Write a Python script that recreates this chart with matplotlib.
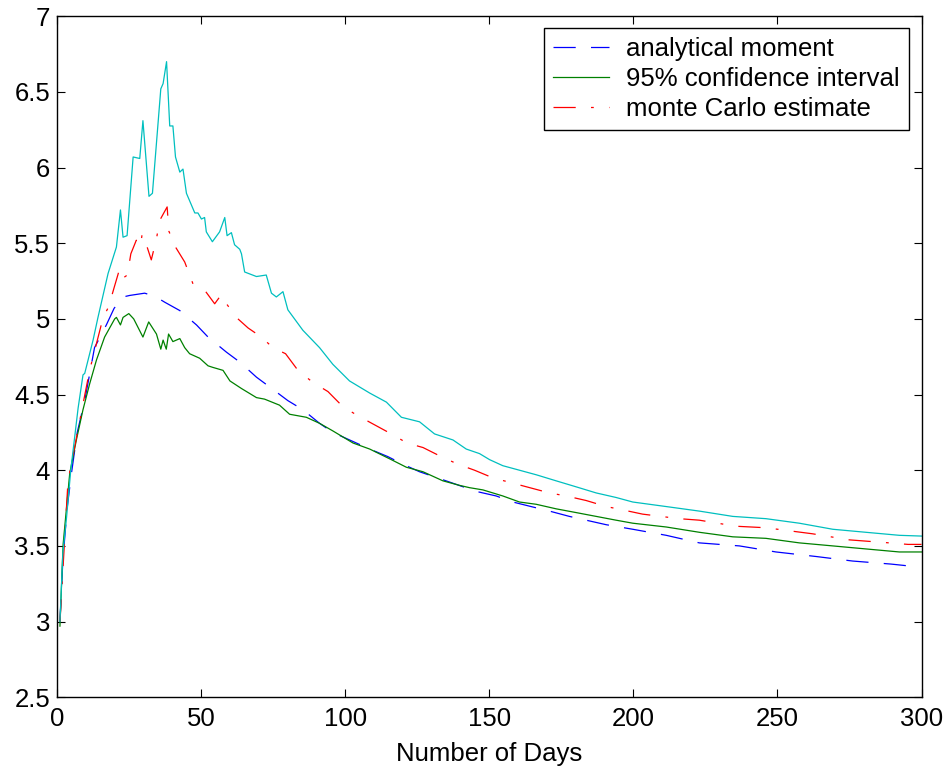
import matplotlib
matplotlib.use("Agg")
import matplotlib.pyplot as plt

plt.rcParams["font.family"] = ["Liberation Sans", "DejaVu Sans"]
plt.rcParams["lines.scale_dashes"] = False

# values (day, value)
upper_days = [1, 2, 3.3, 4.75, 7.3, 9, 9.6, 12.5, 14.2, 17.7, 20.6, 22, 22.9, 24.3,
              26.4, 28.7, 29.8, 31.9, 33.1, 36, 36.8, 38, 39.1, 40.2, 41.1, 42.6,
              43.7, 44.9, 47.8, 48.9, 50.1, 51.2, 51.8, 53.9, 56.4, 58.2, 59, 60.5,
              61.6, 63.4, 64, 65.1, 69.2, 72.6, 74.4, 76.1, 78.4, 80.1, 85.3, 91.1,
              95.7, 101.5, 108.5, 114.3, 119.5, 125.8, 131, 137.4, 142, 146.6, 150.1,
              154.7, 160.5, 166.3, 173.2, 180.2, 187.1, 194, 199.8, 211.4, 222.9,
              234.5, 246, 257.6, 269.2, 280.7, 292.3, 300]
upper_vals = [3.0, 3.45, 3.69, 4.0, 4.41, 4.63, 4.64, 4.86, 5.01, 5.30, 5.475, 5.72,
              5.54, 5.55, 6.07, 6.06, 6.31, 5.81, 5.83, 6.52, 6.555, 6.70, 6.275,
              6.275, 6.07, 5.97, 5.99, 5.83, 5.70, 5.70, 5.66, 5.67, 5.575, 5.51,
              5.575, 5.67, 5.55, 5.57, 5.49, 5.46, 5.43, 5.31, 5.28, 5.29, 5.17,
              5.145, 5.18, 5.06, 4.925, 4.81, 4.70, 4.59, 4.51, 4.45, 4.35, 4.32,
              4.24, 4.20, 4.14, 4.11, 4.07, 4.03, 4.0, 3.97, 3.93, 3.89, 3.85, 3.82,
              3.79, 3.76, 3.73, 3.695, 3.68, 3.65, 3.61, 3.59, 3.57, 3.565]

lower_days = [1, 2.1, 4.4, 6.7, 9, 11.3, 13.7, 16.5, 20, 20.6, 22, 22.9, 24.9, 26.6,
              29.8, 31.8, 34.5, 36, 36.8, 37.9, 38.7, 40.2, 42.6, 44.3, 46, 49.5,
              52.4, 54, 57.6, 60, 64, 69.2, 72, 77.2, 80.7, 86.5, 91.1, 95.7, 102.7,
              108.5, 116, 121.2, 127, 133.9, 139.7, 143.1, 147.8, 154.7, 160.5,
              166.3, 173.2, 180.2, 187.1, 194, 199.8, 211.4, 222.9, 234.5, 246,
              257.6, 269.2, 280.7, 292.3, 300]
lower_vals = [2.97, 3.51, 3.98, 4.20, 4.40, 4.57, 4.73, 4.88, 5.0, 5.01, 4.96, 5.01,
              5.035, 5.0, 4.88, 4.98, 4.90, 4.80, 4.86, 4.80, 4.90, 4.85, 4.87,
              4.81, 4.77, 4.74, 4.69, 4.68, 4.66, 4.59, 4.54, 4.48, 4.47, 4.43,
              4.37, 4.35, 4.31, 4.26, 4.18, 4.14, 4.07, 4.02, 3.99, 3.93, 3.90,
              3.885, 3.87, 3.83, 3.79, 3.775, 3.745, 3.72, 3.695, 3.67, 3.65,
              3.625, 3.59, 3.56, 3.55, 3.52, 3.50, 3.48, 3.46, 3.46]

moment_days = [1, 2, 3.5, 5, 7, 9.6, 13, 17.1, 19.8, 22.9, 25.2, 30.4, 33.9, 37.4,
               42.6, 48.4, 52.4, 58.8, 63.4, 69.2, 73.8, 80.1, 85.3, 91.1, 95.7,
               102.7, 108.5, 114.8, 120, 125.8, 135, 145.5, 152.4, 158.2, 164.5,
               170.9, 177.8, 183.6, 190.6, 199.8, 211.4, 222.9, 236.8, 249.5, 263.4,
               276.1, 289.4, 296.9]
moment_vals = [3.0, 3.4, 3.75, 3.98, 4.25, 4.46, 4.81, 4.96, 5.07, 5.145, 5.155,
               5.17, 5.15, 5.11, 5.055, 4.96, 4.88, 4.78, 4.715, 4.615, 4.55, 4.46,
               4.40, 4.31, 4.25, 4.19, 4.14, 4.09, 4.04, 3.99, 3.93, 3.86, 3.83,
               3.79, 3.76, 3.73, 3.695, 3.67, 3.64, 3.61, 3.57, 3.52, 3.50, 3.46,
               3.43, 3.40, 3.38, 3.365]

mc_days = [1, 3.8, 7.9, 11.3, 16, 17.9, 19.7, 21.7, 22.9, 24.4, 25.6, 27.5, 29,
           29.5, 31, 32.7, 34.5, 35.6, 38.2, 38.8, 41.1, 44.3, 47.2, 51.6, 54.7, 57,
           58.8, 62.2, 66.3, 70.9, 74.9, 79.3, 83.6, 88.8, 94, 99.2, 104.4, 110.2,
           116, 121.4, 127, 133.3, 139.1, 144.9, 151.2, 164, 170.9, 176.7, 183.6,
           190.6, 195.8, 203.2, 215.9, 222.9, 235.6, 246, 262.2, 274.9, 288.8,
           295.3, 300]
mc_vals = [3.0, 3.93, 4.33, 4.66, 5.01, 5.08, 5.20, 5.33, 5.27, 5.29, 5.43, 5.52,
           5.48, 5.56, 5.49, 5.39, 5.53, 5.65, 5.74, 5.58, 5.475, 5.376, 5.23, 5.18,
           5.10, 5.16, 5.10, 5.01, 4.94, 4.88, 4.81, 4.77, 4.66, 4.58, 4.52, 4.42,
           4.36, 4.30, 4.24, 4.18, 4.15, 4.09, 4.04, 4.0, 3.95, 3.885, 3.85, 3.83,
           3.80, 3.76, 3.74, 3.71, 3.68, 3.67, 3.63, 3.62, 3.58, 3.54, 3.52, 3.51,
           3.51]

fig = plt.figure(figsize=(9.51, 7.73), dpi=100)
ax = fig.add_axes([0.060, 0.098, 0.909, 0.881])

lw = 0.9
ax.plot(moment_days, moment_vals, color=(0, 0, 1), lw=lw, dashes=(16, 11),
        label="analytical moment")
ax.plot(lower_days, lower_vals, color=(0, 0.5, 0), lw=lw,
        label="95% confidence interval")
ax.plot(mc_days, mc_vals, color=(1, 0, 0), lw=lw, dashes=(16, 11, 2, 11),
        label="monte Carlo estimate")
ax.plot(upper_days, upper_vals, color=(0, 0.75, 0.75), lw=lw)

ax.set_xlim(0, 300)
ax.set_ylim(2.5, 7)
ax.set_xticks([0, 50, 100, 150, 200, 250, 300])
ax.set_yticks([2.5, 3, 3.5, 4, 4.5, 5, 5.5, 6, 6.5, 7])
ax.set_yticklabels(["2.5", "3", "3.5", "4", "4.5", "5", "5.5", "6", "6.5", "7"])
ax.tick_params(direction="in", length=6, width=0.8, labelsize=18.5,
               top=True, right=True)
ax.tick_params(axis="x", pad=7)
ax.tick_params(axis="y", pad=5)
for s in ax.spines.values():
    s.set_linewidth(1.0)
ax.set_xlabel("Number of Days", fontsize=18.5, labelpad=8)

leg = ax.legend(loc="upper right", bbox_to_anchor=(0.985, 0.983), fontsize=18.5,
                frameon=True, fancybox=False, edgecolor="black", framealpha=1,
                handlelength=2.2, handletextpad=0.65, borderpad=0.35,
                labelspacing=0.24, borderaxespad=0)
leg.get_frame().set_linewidth(1.0)

fig.savefig("out.png", dpi=100)
